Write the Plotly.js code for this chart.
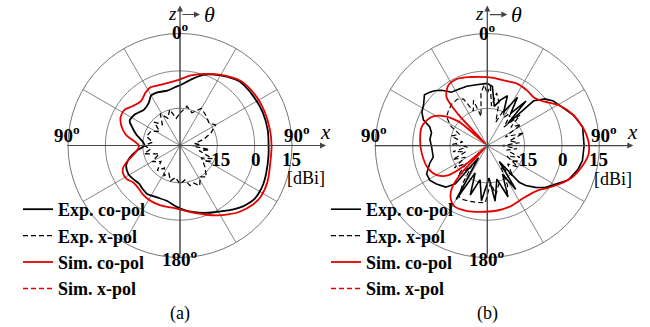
<!DOCTYPE html>
<html>
<head>
<meta charset="utf-8">
<script src="https://cdn.plot.ly/plotly-3.0.1.min.js"></script>
<style>
  html, body { margin: 0; padding: 0; background: #fff; }
  #chart { width: 650px; height: 327px; }
</style>
</head>
<body>
<div id="chart"></div>
<script>
// Radiation patterns in the xz-plane, gain in dBi versus theta (degrees).

// (a) measured co-polarisation
const angA_expCo = [0,11,19,30,43,56,68,80,90,97,108,115,120,125,129,134,140,146,153,160,168,176,183,193,204,214,221,227,235,241,250,256,264,270,276,284,292,296,304,315,324,330,337,347,355,360];
const dbA_expCo  = [-5.8,-2.6,0.1,2.5,5.1,5.5,5.8,5.8,5.6,5.8,6.4,6.9,7.0,6.9,6.3,5.2,3.5,1.7,0.1,-1.2,-2.6,-4.0,-5.3,-7.1,-7.2,-6.5,-7.0,-7.5,-6.8,-6.3,-7.0,-9.1,-12.9,-15.8,-14.9,-11.9,-9.0,-7.5,-7.9,-9.6,-8.7,-6.8,-6.8,-7.4,-6.5,-5.8];
// (a) measured cross-polarisation
const angA_expX = [0,10,20,30,40,52,60,68,75,82,88,92,98,105,112,120,130,140,147,154,160,166,172,180,188,195,202,208,215,222,230,240,248,257,263,270,277,285,296,305,312,320,328,336,344,352,360];
const dbA_expX  = [-17,-14,-16,-12.8,-14,-15.2,-13.5,-16.6,-20,-24,-22,-25,-18,-22,-16,-20,-17,-13.5,-15,-12,-14,-13.4,-16,-14.5,-17,-15.3,-18,-16.3,-19,-16.4,-20,-17,-21,-15.3,-18,-15.6,-19,-16,-17,-20,-16,-19,-15,-18,-15,-19,-17];
// (a) simulated co-polarisation
const angA_simCo = [0,9,19,30,43,56,68,80,90,97,112,122,129,138,145,152,160,168,176,186,198,208,217,225,232,238,244,249,254,260,265,270,275,281,288,296,303,310,319,327,333,342,351,360];
const dbA_simCo  = [-3.4,-1.5,0.45,2.8,5.6,6.4,6.6,6.7,6.8,6.8,8.0,8.4,7.7,5.8,3.8,1.8,-0.5,-2.3,-3.8,-4.8,-4.7,-4.8,-5.3,-6.1,-6.0,-4.7,-4.5,-5.6,-8.3,-11.5,-13.0,-13.5,-11.7,-8.0,-5.3,-3.5,-3.5,-5.3,-6.2,-4.6,-3.8,-4.4,-4.3,-3.4];
// (a) simulated cross-polarisation: below the -30 dBi floor of the plot
const angA_simX = [0, 90, 180, 270, 360];
const dbA_simX  = [null, null, null, null, null];

// (b) measured co-polarisation
const angB_expCo = [0,5,10,16,22,26,32,36,41,43,46,51,56,64,71,79,90,99,105,113,120,126,131,136,139,143,147,152,158,164,172,177,186,192,199,204,210,216,220,225,233,239,245,253,258,269,276,283,288,292,297,303,309,313,316,320,323,326,333,341,350,360];
const dbB_expCo  = [-5,-6.2,-14,-11,-8.4,-15,-7.1,-14,-6.3,-18,-4.1,-0.2,2.0,4.2,6.9,9.0,8.9,8.7,7.6,5.3,1.2,-1.3,-4.4,-7.7,-10.5,-22,-9,-17,-7.8,-16,-7.5,-17,-7.7,-16,-9,-18,-5,-24,-10,-6.4,-4.4,-3.0,-3.1,-5.8,-7.8,-7.6,-6.8,-7.0,-5.7,-2.3,-0.5,0.5,2.5,1.5,0.6,-1.0,-2.5,-4.1,-4.6,-4.8,-5.2,-5];
// (b) measured cross-polarisation
const angB_expX = [0,3,6,10,15,20,25,30,36,42,47,52,58,64,71,78,85,90,96,103,110,118,125,132,140,147,153,158,163,170,175,182,190,198,205,209,213,218,224,230,236,242,248,254,260,266,272,278,285,292,298,305,312,320,327,333,338,343,348,353,357,360];
const dbB_expX  = [-9,-6,-14,-8.5,-12,-20,-14,-17,-13.7,-20,-12,-18,-14,-22,-14.4,-21,-17,-24,-18,-22,-16,-21,-15,-19,-14,-20,-12,-9,-14,-10,-15,-7,-6.8,-6.5,-6.2,-6.5,-12,-20,-13,-19,-14,-20,-15,-21,-16,-22,-16,-20,-15,-18,-13.5,-10,-9,-8,-7.8,-9,-15,-11,-18,-9,-5.5,-9];
// (b) simulated co-polarisation
const angB_simCo = [0,8,15,26,36,44,52,61,70,79,85,90,95,102,110,118,125,132,145,159,171,182,197,209,215,220,223,226,229,233,239,249,263,275,286,296,303,310,314,317,320,327,336,346,360];
const dbB_simCo  = [-2.5,-2.8,-3.0,-2.4,-2.7,-3.1,-1.2,3.2,6.5,9.0,10.3,10.9,10.8,9.1,6.6,2.9,-0.3,-3.0,-4.4,-3.9,-3.6,-3.4,-2.5,-2.3,-4.3,-8,-14,-29,-17,-10.1,-6.8,-4.5,-3.5,-2.9,-2.6,-4.4,-8.0,-15,-29,-13,-4.5,-1.2,-0.6,-1.6,-2.5];
// (b) simulated cross-polarisation: below the -30 dBi floor of the plot
const angB_simX = [0, 90, 180, 270, 360];
const dbB_simX  = [null, null, null, null, null];

const seriesNames = ['Exp. co-pol', 'Exp. x-pol', 'Sim. co-pol', 'Sim. x-pol'];
const gainTicks = [-15, 0, 15];
const gainRange = [-30, 15];

// ---- geometry helpers (pixel -> paper) ----
const W = 650, H = 327;
const px = x => x / W;
const py = y => 1 - y / H;
const R = 112;
const centres = [{x: 180, y: 145.5}, {x: 487.3, y: 145.6}];

const SERIF = '"Liberation Serif", "Times New Roman", serif';
const RED = 'rgb(230,0,0)';
const GRID = '#666';

function polarLayout(c) {
  return {
    domain: {x: [px(c.x - R), px(c.x + R)], y: [py(c.y + R), py(c.y - R)]},
    bgcolor: 'rgba(0,0,0,0)',
    radialaxis: {
      range: gainRange, tickvals: gainTicks.slice(0, 2), showticklabels: false,
      ticks: '', showline: false, gridcolor: GRID, gridwidth: 0.8
    },
    angularaxis: {
      rotation: 90, direction: 'clockwise',
      tickvals: [0, 30, 60, 90, 120, 150, 180, 210, 240, 270, 300, 330],
      showticklabels: false, ticks: '', showgrid: true, gridcolor: GRID, gridwidth: 0.8,
      showline: true, linecolor: GRID, linewidth: 0.9
    }
  };
}

function line(name, ang, db, color, dash, width, subplot, legend, shape) {
  return {
    type: 'scatterpolar', mode: 'lines', name: name, theta: ang, r: db,
    subplot: subplot, legend: legend, hoverinfo: 'skip',
    line: {color: color, dash: dash, width: width, shape: shape, smoothing: 0.8}
  };
}

const DASH = '5px,3px';
const traces = [
  line(seriesNames[0], angA_expCo, dbA_expCo, '#000', 'solid', 1.8, 'polar', 'legend', 'spline'),
  line(seriesNames[1], angA_expX, dbA_expX, '#000', DASH, 1.3, 'polar', 'legend', 'linear'),
  line(seriesNames[2], angA_simCo, dbA_simCo, RED, 'solid', 1.8, 'polar', 'legend', 'spline'),
  line(seriesNames[3], angA_simX, dbA_simX, RED, DASH, 1.5, 'polar', 'legend', 'linear'),
  line(seriesNames[0], angB_expCo, dbB_expCo, '#000', 'solid', 1.6, 'polar2', 'legend2', 'linear'),
  line(seriesNames[1], angB_expX, dbB_expX, '#000', DASH, 1.2, 'polar2', 'legend2', 'linear'),
  line(seriesNames[2], angB_simCo, dbB_simCo, RED, 'solid', 1.8, 'polar2', 'legend2', 'spline'),
  line(seriesNames[3], angB_simX, dbB_simX, RED, DASH, 1.5, 'polar2', 'legend2', 'linear')
];

// ---- labels, axes and arrows around each pattern ----
const annotations = [];
function label(x, y, text, opts) {
  annotations.push(Object.assign({
    x: px(x), y: py(y), xref: 'paper', yref: 'paper', text: text, showarrow: false,
    xanchor: 'center', yanchor: 'middle',
    font: {family: SERIF, size: 19, color: '#000', weight: 'bold'}
  }, opts || {}));
}
function arrow(x0, y0, x1, y1) {
  annotations.push({
    x: px(x1), y: py(y1), ax: px(x0), ay: py(y0),
    xref: 'paper', yref: 'paper', axref: 'paper', ayref: 'paper',
    text: '', showarrow: true, arrowhead: 2, arrowsize: 1, arrowwidth: 1.2,
    arrowcolor: '#444', standoff: 0, startstandoff: 0
  });
}

const captions = ['(a)', '(b)'];
centres.forEach((c, i) => {
  // x axis and z axis through the pattern centre
  arrow(c.x - 114, c.y, c.x + 146, c.y);
  arrow(c.x, c.y + 110, c.x, c.y - 140);
  // theta direction indicator
  arrow(c.x + 1, c.y - 131, c.x + 20, c.y - 131);
  label(c.x - 8, c.y - 132.5, 'z', {font: {family: SERIF, size: 19, color: '#000', style: 'italic'}});
  label(c.x + 29, c.y - 131.5, 'θ', {font: {family: SERIF, size: 22, color: '#000', style: 'italic'}});
  label(c.x + 145, c.y - 14, 'x', {font: {family: SERIF, size: 21, color: '#000', style: 'italic'}});

  label(c.x, c.y - 114, '0<sup>o</sup>');
  label(c.x - 113, c.y - 12, '90<sup>o</sup>');
  label(c.x + 117, c.y - 12, '90<sup>o</sup>');
  label(c.x, c.y + 112, '180<sup>o</sup>');

  const tickX = [37, 76, 111];
  gainTicks.forEach((g, k) => label(c.x + tickX[k], c.y + 13.5, String(g)));
  label(c.x + 126, c.y + 33, '[dBi]', {font: {family: SERIF, size: 18, color: '#000'}});
  label(c.x, c.y + 168, captions[i], {font: {family: SERIF, size: 18, color: '#000'}});
});

function legendAt(x, y) {
  return {
    x: px(x), y: py(y), xanchor: 'left', yanchor: 'top',
    bgcolor: 'rgba(0,0,0,0)', borderwidth: 0, itemwidth: 30, tracegroupgap: 0,
    font: {family: SERIF, size: 18, color: '#000', weight: 'bold'}
  };
}

const layout = {
  width: W, height: H,
  margin: {l: 0, r: 0, t: 0, b: 0},
  paper_bgcolor: '#fff',
  showlegend: true,
  polar: polarLayout(centres[0]),
  polar2: polarLayout(centres[1]),
  legend: legendAt(18, 191),
  legend2: legendAt(326, 191),
  annotations: annotations
};

Plotly.newPlot('chart', traces, layout, {staticPlot: true, displayModeBar: false});
</script>
</body>
</html>
